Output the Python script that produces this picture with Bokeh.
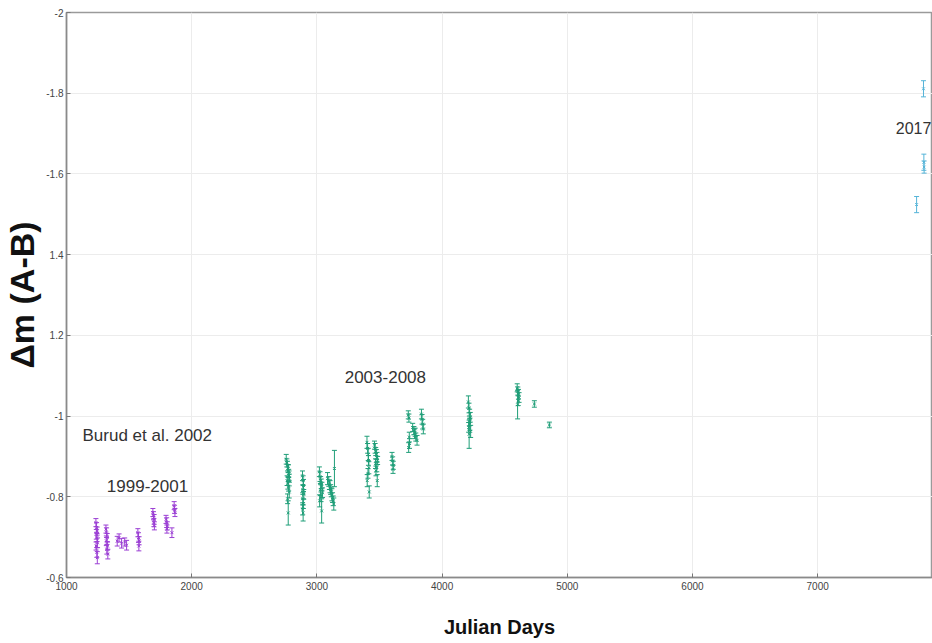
from bokeh.plotting import figure
from bokeh.models import ColumnDataSource, Whisker, TeeHead, Range1d, FixedTicker, Label
from bokeh.embed import file_html
from bokeh.resources import INLINE

# ---------------- data ----------------
purple_jd = [1235, 1240, 1245, 1238, 1243, 1248, 1236, 1242, 1246,
             1315, 1320, 1325, 1318, 1328, 1322, 1330,
             1405, 1420, 1440, 1465, 1480,
             1570, 1575, 1580, 1578,
             1690, 1695, 1700, 1698, 1702,
             1795, 1800, 1805, 1802, 1842,
             1860, 1863, 1866]
purple_dm = [-0.736, -0.724, -0.715, -0.707, -0.699, -0.686, -0.678, -0.662, -0.649,
             -0.720, -0.711, -0.699, -0.691, -0.678, -0.670, -0.658,
             -0.690, -0.698, -0.685, -0.688, -0.680,
             -0.711, -0.699, -0.691, -0.678,
             -0.761, -0.753, -0.744, -0.736, -0.728,
             -0.744, -0.736, -0.728, -0.720, -0.711,
             -0.778, -0.769, -0.761]
purple_err = [0.010, 0.012, 0.010, 0.012, 0.010, 0.012, 0.010, 0.012, 0.015,
              0.010, 0.012, 0.010, 0.012, 0.010, 0.012, 0.012,
              0.012, 0.010, 0.012, 0.010, 0.012,
              0.010, 0.012, 0.010, 0.012,
              0.010, 0.010, 0.012, 0.010, 0.010,
              0.010, 0.012, 0.010, 0.010, 0.012,
              0.010, 0.010, 0.010]

green_jd = [2755, 2760, 2765, 2770, 2772, 2775, 2778, 2780, 2762, 2768, 2774, 2779, 2766, 2771,
            2885, 2890, 2893, 2888, 2895, 2887, 2892, 2886, 2890,
            3020, 3025, 3030, 3035, 3040, 3028, 3045, 3033, 3022, 3038,
            3085, 3095, 3100, 3105, 3110, 3115, 3120, 3125, 3130, 3135, 3140,
            3400, 3405, 3410, 3412, 3415, 3408, 3402, 3418,
            3460, 3465, 3470, 3475, 3480, 3485, 3468, 3478, 3472, 3482,
            3600, 3605, 3610, 3608,
            3730, 3735, 3738, 3740, 3733,
            3765, 3775, 3780, 3790, 3800, 3785,
            3835, 3840, 3845, 3850,
            4210, 4215, 4220, 4225, 4218, 4222, 4212, 4228, 4216,
            4600, 4605, 4610, 4615, 4608, 4603,
            4737, 4857]
green_dm = [-0.893, -0.884, -0.876, -0.870, -0.864, -0.858, -0.852, -0.846, -0.840, -0.834, -0.826, -0.812, -0.795, -0.760,
            -0.852, -0.840, -0.828, -0.818, -0.806, -0.795, -0.783, -0.770, -0.760,
            -0.862, -0.850, -0.840, -0.832, -0.826, -0.818, -0.810, -0.800, -0.790, -0.765,
            -0.845, -0.838, -0.830, -0.825, -0.818, -0.812, -0.805, -0.798, -0.790, -0.782, -0.870,
            -0.935, -0.920, -0.905, -0.890, -0.872, -0.858, -0.840, -0.812,
            -0.928, -0.920, -0.912, -0.905, -0.898, -0.890, -0.882, -0.874, -0.864, -0.840,
            -0.900, -0.889, -0.878, -0.868,
            -1.003, -0.995, -0.948, -0.932, -0.922,
            -0.972, -0.964, -0.956, -0.948, -0.940, -0.960,
            -1.005, -0.992, -0.980, -0.968,
            -1.035, -1.020, -1.005, -0.997, -0.988, -0.980, -0.972, -0.962, -0.955,
            -1.070, -1.062, -1.054, -1.046, -1.038, -1.028,
            -1.030, -0.978]
green_err = [0.012, 0.010, 0.012, 0.010, 0.015, 0.010, 0.012, 0.010, 0.012, 0.015, 0.012, 0.015, 0.012, 0.030,
             0.012, 0.012, 0.015, 0.012, 0.012, 0.015, 0.012, 0.015, 0.020,
             0.012, 0.012, 0.010, 0.012, 0.010, 0.015, 0.012, 0.012, 0.015, 0.030,
             0.015, 0.012, 0.012, 0.015, 0.012, 0.012, 0.015, 0.012, 0.012, 0.015, 0.045,
             0.015, 0.012, 0.015, 0.012, 0.015, 0.012, 0.015, 0.015,
             0.010, 0.012, 0.010, 0.012, 0.012, 0.010, 0.012, 0.012, 0.012, 0.015,
             0.010, 0.010, 0.010, 0.010,
             0.010, 0.010, 0.012, 0.012, 0.012,
             0.010, 0.010, 0.012, 0.010, 0.012, 0.010,
             0.012, 0.012, 0.012, 0.012,
             0.015, 0.012, 0.012, 0.012, 0.012, 0.015, 0.012, 0.015, 0.035,
             0.010, 0.010, 0.012, 0.012, 0.012, 0.035,
             0.008, 0.007]

cyan_jd = [7845, 7848, 7850, 7790]
cyan_dm = [-1.811, -1.629, -1.617, -1.524]
cyan_err = [0.020, 0.020, 0.015, 0.020]

x_ticks = [1000, 2000, 3000, 4000, 5000, 6000, 7000, 8000]
y_ticks = [-2.0, -1.8, -1.6, -1.4, -1.2, -1.0, -0.8, -0.6]
y_tick_labels = ["-2", "-1.8", "-1.6", "1.4", "1.2", "-1", "-0.8", "-0.6"]

annotations = [("Burud et al. 2002", 1128, -0.951, "left", "17px"),
               ("1999-2001", 1322, -0.827, "left", "17px"),
               ("2003-2008", 3222, -1.0975, "left", "17px"),
               ("2017", 7908, -1.713, "right", "16px")]

# ---------------- figure ----------------
p = figure(width=932, height=643, output_backend="svg", toolbar_location=None,
           x_range=Range1d(1000, 7917), y_range=Range1d(-0.6, -2.0),
           min_border_left=66, min_border_right=0, min_border_top=12, min_border_bottom=66)
p.background_fill_color = "white"
p.border_fill_color = "white"
p.outline_line_color = "#9a9a9a"
p.outline_line_width = 1.5

for ax in (p.xaxis[0], p.yaxis[0]):
    ax.axis_line_color = "#8a8a8a"
    ax.axis_line_width = 1.5
    ax.major_tick_in = 4
    ax.major_tick_out = 0
    ax.major_tick_line_color = "#777777"
    ax.minor_tick_line_color = None
    ax.major_label_text_font = "Liberation Sans"
    ax.major_label_text_font_size = "10px"
    ax.major_label_text_color = "#444444"
    ax.axis_label_text_font = "Liberation Sans"
    ax.axis_label_text_font_style = "bold"
    ax.axis_label_text_color = "#111111"

p.xaxis.ticker = FixedTicker(ticks=x_ticks)
p.yaxis.ticker = FixedTicker(ticks=y_ticks)
p.yaxis.major_label_overrides = {t: s for t, s in zip(y_ticks, y_tick_labels)}
p.xaxis.major_label_standoff = 4
p.yaxis.major_label_standoff = 3

p.xaxis.axis_label = "Julian Days"
p.xaxis.axis_label_text_font_size = "20px"
p.xaxis.axis_label_standoff = 23
p.yaxis.axis_label = "Δm (A-B)"
p.yaxis.axis_label_text_font_size = "34px"
p.yaxis.axis_label_standoff = 2

p.xgrid.grid_line_color = "#ececec"
p.ygrid.grid_line_color = "#ececec"
p.xgrid.ticker = FixedTicker(ticks=x_ticks)
p.ygrid.ticker = FixedTicker(ticks=y_ticks)


def add_series(jd, dm, err, color):
    src = ColumnDataSource(dict(x=jd, y=dm,
                                upper=[v + e for v, e in zip(dm, err)],
                                lower=[v - e for v, e in zip(dm, err)]))
    w = Whisker(source=src, base="x", upper="upper", lower="lower", dimension="height",
                line_color=color, line_width=1,
                upper_head=TeeHead(size=5, line_color=color, line_width=1),
                lower_head=TeeHead(size=5, line_color=color, line_width=1))
    p.add_layout(w)
    p.scatter("x", "y", source=src, marker="x", size=4, line_color=color, line_width=1)


add_series(purple_jd, purple_dm, purple_err, "#9b3fd4")
add_series(green_jd, green_dm, green_err, "#1f9e78")
add_series(cyan_jd, cyan_dm, cyan_err, "#55b4d8")

for txt, xv, yv, al, fs in annotations:
    p.add_layout(Label(x=xv, y=yv, text=txt, text_font="Liberation Sans",
                       text_font_size=fs, text_color="#333333",
                       text_baseline="middle", text_align=al))

open("out.html", "w").write(file_html(p, INLINE))
